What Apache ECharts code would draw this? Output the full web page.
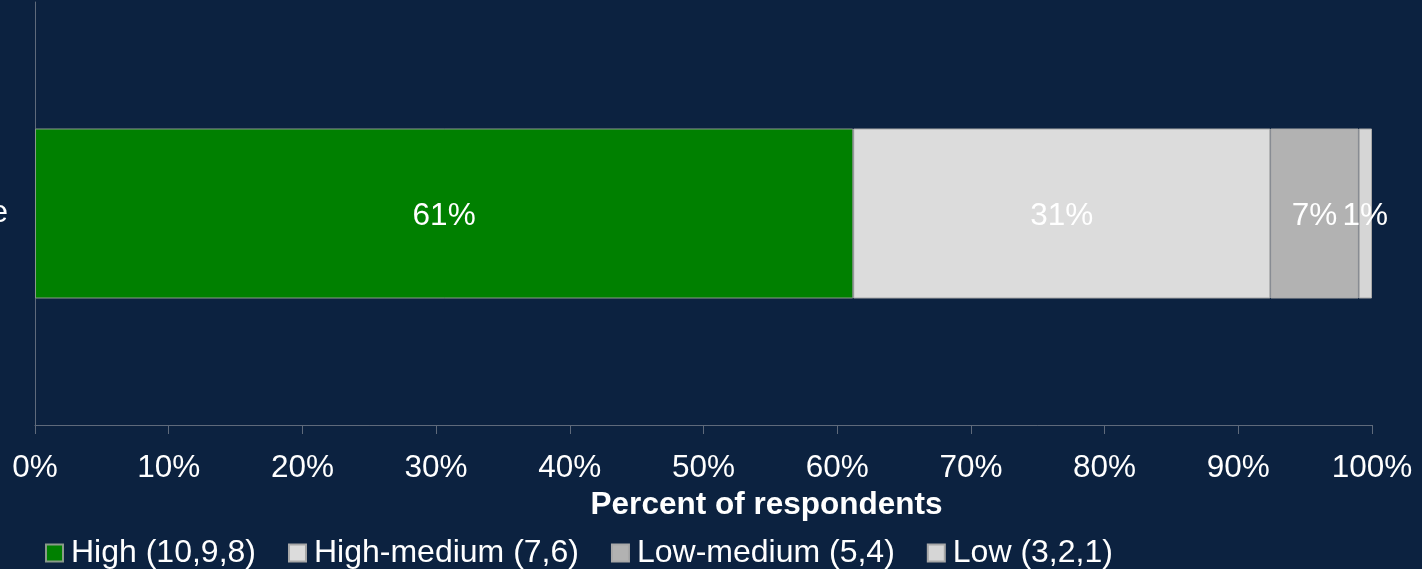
<!DOCTYPE html>
<html><head><meta charset="utf-8">
<script src="https://cdn.jsdelivr.net/npm/echarts@6/dist/echarts.min.js"></script>
<style>html,body{margin:0;padding:0;background:#0c2240;}#c{width:1422px;height:569px;}</style>
</head><body><div id="c"></div>
<script>
const categories = ['Sample'];
const seriesNames = ['High (10,9,8)', 'High-medium (7,6)', 'Low-medium (5,4)', 'Low (3,2,1)'];
const high = [61.2];
const highMedium = [31.2];
const lowMedium = [6.6];
const low = [1.0];
const xTicks = [0, 10, 20, 30, 40, 50, 60, 70, 80, 90, 100];
const colors = ['#008000', '#dcdcdc', '#b2b2b2', '#d6d6d6'];
const values = [high, highMedium, lowMedium, low];
const font = 'Liberation Sans, Arial, sans-serif';

const chart = echarts.init(document.getElementById('c'));
chart.setOption({
  backgroundColor: '#0c2240',
  animation: false,
  grid: {left: 35, right: 50, top: 2, bottom: 144, containLabel: false, outerBoundsMode: 'none'},
  legend: {
    left: 40, top: 532, itemWidth: 17, itemHeight: 17, itemGap: 32,
    icon: 'rect',
    textStyle: {color: '#ffffff', fontSize: 32, fontFamily: font, padding: [0, 0, 0, 3]},
    data: seriesNames
  },
  xAxis: {
    type: 'value', min: xTicks[0], max: xTicks[xTicks.length - 1], interval: 10,
    axisLine: {show: true, lineStyle: {color: '#5f6a7b', width: 1}},
    axisTick: {show: true, length: 9, lineStyle: {color: '#5f6a7b'}},
    splitLine: {show: false},
    axisLabel: {color: '#ffffff', fontSize: 31.5, fontFamily: font, margin: 27, formatter: '{value}%'},
    name: 'Percent of respondents', nameLocation: 'middle', nameGap: 55,
    nameTextStyle: {color: '#ffffff', fontSize: 31.5, fontWeight: 'bold', fontFamily: font, padding: [0, 0, 0, 126]}
  },
  yAxis: {
    type: 'category', data: categories, inverse: true,
    axisLine: {show: true, lineStyle: {color: '#5f6a7b', width: 1}},
    axisTick: {show: false},
    axisLabel: {color: '#ffffff', fontSize: 31.5, fontFamily: font, margin: 27}
  },
  series: seriesNames.map((n, i) => ({
    name: n, type: 'bar', stack: 'total', barWidth: 170,
    data: values[i],
    itemStyle: {color: colors[i], borderColor: i === 0 ? '#8a9a8a' : '#a8a8a8', borderWidth: 1},
    label: {
      show: true, position: 'inside', color: '#ffffff', fontSize: 31.5, fontFamily: font,
      offset: [0, 3],
      formatter: p => Math.round(p.value) + '%'
    }
  }))
});
</script></body></html>
